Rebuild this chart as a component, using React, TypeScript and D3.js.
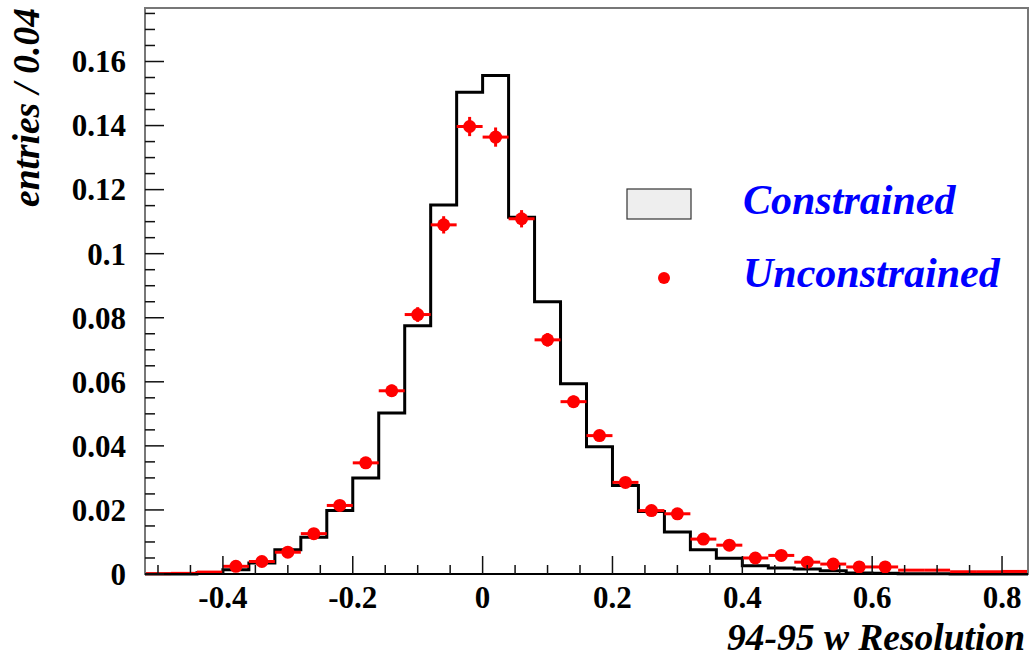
import React, { useEffect, useRef } from 'react';
import * as d3 from 'd3';

// bin edges: -0.52 .. 0.84 in steps of 0.04
const binLow = -0.52;
const binWidth = 0.04;

const constrained = [
  0, 0, 0.0004, 0.0013, 0.0034, 0.0076, 0.0115, 0.0198, 0.030, 0.0503,
  0.0775, 0.1152, 0.1504, 0.1556, 0.1114, 0.0850, 0.0594, 0.0397, 0.0276, 0.0195,
  0.0131, 0.0076, 0.0049, 0.0026, 0.0019, 0.0016, 0.0010, 0.0003, 0.0002, 0.0001,
  0.0001, 0, 0, 0,
];

const unconstrainedX = [
  -0.38, -0.34, -0.30, -0.26, -0.22, -0.18, -0.14, -0.10, -0.06, -0.02,
  0.02, 0.06, 0.10, 0.14, 0.18, 0.22, 0.26, 0.30, 0.34, 0.38,
  0.42, 0.46, 0.50, 0.54, 0.58, 0.62,
];
const unconstrainedY = [
  0.0024, 0.0039, 0.0068, 0.0126, 0.0214, 0.0347, 0.0572, 0.0810, 0.1090, 0.1397,
  0.1364, 0.1109, 0.0731, 0.0538, 0.0432, 0.0286, 0.0198, 0.0188, 0.0109, 0.0090,
  0.0050, 0.0058, 0.0037, 0.0031, 0.0022, 0.0022,
];
const unconstrainedErr = [
  0.0004, 0.0005, 0.0007, 0.0009, 0.0012, 0.0015, 0.0019, 0.0023, 0.0027, 0.0030,
  0.0030, 0.0027, 0.0021, 0.0019, 0.0017, 0.0013, 0.0011, 0.0011, 0.0008, 0.0008,
  0.0006, 0.0006, 0.0005, 0.0004, 0.0004, 0.0004,
];
// bins without a marker, only the horizontal bar
const tailX = [-0.50, -0.46, -0.42, 0.66, 0.70, 0.74, 0.78, 0.82];
const tailY = [0.0001, 0.0002, 0.0006, 0.0012, 0.0012, 0.0007, 0.0007, 0.0008];

const yTicks = [0, 0.02, 0.04, 0.06, 0.08, 0.1, 0.12, 0.14, 0.16];
const xTicks = [-0.4, -0.2, 0, 0.2, 0.4, 0.6, 0.8];

const legendItems = ['Constrained', 'Unconstrained'];

const W = 1031;
const H = 657;

export default function App() {
  const svgRef = useRef<SVGSVGElement>(null);

  useEffect(() => {
    if (!svgRef.current) return;
    const svg = d3.select(svgRef.current);
    svg.selectAll('*').remove();

    const left = 145, right = 1028, top = 8, bottom = 574;
    const x = d3.scaleLinear().domain([-0.52, 0.84]).range([left, right]);
    const y = d3.scaleLinear().domain([0, 0.1767]).range([bottom, top]);

    const serif = "'Liberation Serif', 'Times New Roman', serif";

    // constrained histogram as a step outline
    const pts: [number, number][] = [];
    constrained.forEach((v, i) => {
      const x0 = binLow + i * binWidth;
      pts.push([x(x0), y(v)]);
      pts.push([x(x0 + binWidth), y(v)]);
    });
    svg.append('path')
      .attr('d', d3.line()(pts))
      .attr('fill', 'none')
      .attr('stroke', '#000')
      .attr('stroke-width', 3)
      .attr('stroke-linejoin', 'miter');

    // unconstrained: error bars + markers
    const red = '#ff0000';
    const g = svg.append('g');
    tailX.forEach((cx, i) => {
      g.append('line')
        .attr('x1', x(cx - binWidth / 2)).attr('x2', x(cx + binWidth / 2))
        .attr('y1', y(tailY[i])).attr('y2', y(tailY[i]))
        .attr('stroke', red).attr('stroke-width', 3);
    });
    unconstrainedX.forEach((cx, i) => {
      const v = unconstrainedY[i];
      const e = unconstrainedErr[i];
      g.append('line')
        .attr('x1', x(cx - binWidth / 2)).attr('x2', x(cx + binWidth / 2))
        .attr('y1', y(v)).attr('y2', y(v))
        .attr('stroke', red).attr('stroke-width', 3);
      g.append('line')
        .attr('x1', x(cx)).attr('x2', x(cx))
        .attr('y1', y(v - e)).attr('y2', y(v + e))
        .attr('stroke', red).attr('stroke-width', 3);
      g.append('circle')
        .attr('cx', x(cx)).attr('cy', y(v)).attr('r', 6.5)
        .attr('fill', red);
    });

    // frame
    svg.append('rect')
      .attr('x', left).attr('y', top)
      .attr('width', right - left).attr('height', bottom - top)
      .attr('fill', 'none').attr('stroke', '#777').attr('stroke-width', 2);
    svg.append('line')
      .attr('x1', left).attr('x2', right).attr('y1', bottom).attr('y2', bottom)
      .attr('stroke', '#000').attr('stroke-width', 2);

    const fmt = (t: number) => String(+t.toFixed(2));

    // y ticks
    const yMinor = d3.range(0, 0.1767, 0.005);
    yMinor.forEach((t) => {
      const major = Math.abs(t / 0.02 - Math.round(t / 0.02)) < 1e-6;
      svg.append('line')
        .attr('x1', left).attr('x2', left + (major ? 19 : 10))
        .attr('y1', y(t)).attr('y2', y(t))
        .attr('stroke', '#111').attr('stroke-width', 1.5);
    });
    yTicks.forEach((t) => {
      svg.append('text')
        .attr('x', 126).attr('y', y(t))
        .attr('dy', '0.35em')
        .attr('text-anchor', 'end')
        .attr('font-family', serif).attr('font-weight', 'bold')
        .attr('font-size', 31)
        .text(fmt(t));
    });

    // x ticks
    const xMinor = d3.range(-0.5, 0.84, 0.05);
    xMinor.forEach((t) => {
      const major = Math.abs(t / 0.2 - Math.round(t / 0.2)) < 1e-6;
      svg.append('line')
        .attr('x1', x(t)).attr('x2', x(t))
        .attr('y1', bottom).attr('y2', bottom - (major ? 18 : 9))
        .attr('stroke', '#111').attr('stroke-width', 1.5);
    });
    xTicks.forEach((t) => {
      svg.append('text')
        .attr('x', x(t)).attr('y', 608)
        .attr('text-anchor', 'middle')
        .attr('font-family', serif).attr('font-weight', 'bold')
        .attr('font-size', 31)
        .text(fmt(t));
    });

    // axis titles
    svg.append('text')
      .attr('x', 1025).attr('y', 650)
      .attr('text-anchor', 'end')
      .attr('font-family', serif).attr('font-weight', 'bold').attr('font-style', 'italic')
      .attr('font-size', 37.5)
      .text('94-95 w Resolution');
    svg.append('text')
      .attr('transform', 'translate(39,8) rotate(-90)')
      .attr('text-anchor', 'end')
      .attr('font-family', serif).attr('font-weight', 'bold').attr('font-style', 'italic')
      .attr('font-size', 37.5)
      .text('entries / 0.04');

    // legend
    svg.append('rect')
      .attr('x', 627).attr('y', 189).attr('width', 64).attr('height', 30)
      .attr('fill', '#eeeeee').attr('stroke', '#333').attr('stroke-width', 1.2);
    svg.append('circle')
      .attr('cx', 664).attr('cy', 278).attr('r', 6).attr('fill', red);
    legendItems.forEach((label, i) => {
      svg.append('text')
        .attr('x', 743).attr('y', 214 + i * 73)
        .attr('font-family', serif).attr('font-weight', 'bold').attr('font-style', 'italic')
        .attr('font-size', 42)
        .attr('fill', '#0000ff')
        .text(label);
    });
  }, []);

  return (
    <div style={{ position: 'fixed', left: 0, top: 0, background: '#fff' }}>
      <svg ref={svgRef} width={W} height={H} style={{ display: 'block' }} />
    </div>
  );
}
